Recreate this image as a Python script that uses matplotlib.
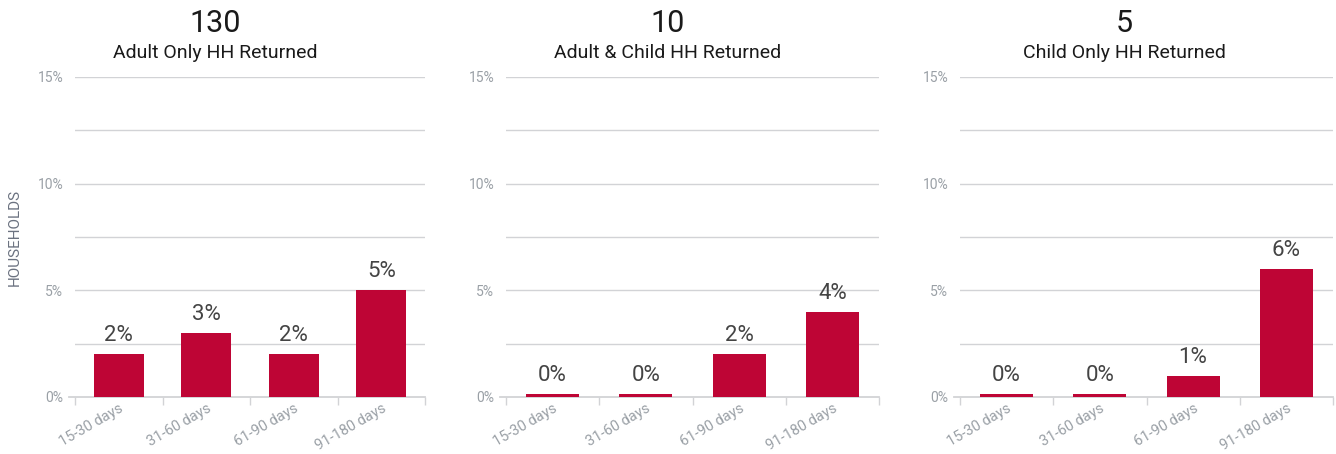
import matplotlib
matplotlib.use("Agg")
import matplotlib.pyplot as plt
import matplotlib.transforms as mtransforms
from matplotlib.ticker import FixedLocator

plt.rcParams['font.family'] = ['Roboto', 'DejaVu Sans']

categories = ["15-30 days", "31-60 days", "61-90 days", "91-180 days"]
totals = ["130", "10", "5"]
subtitles = ["Adult Only HH Returned", "Adult & Child HH Returned", "Child Only HH Returned"]
adult_only = [2, 3, 2, 5]
adult_child = [0, 0, 2, 4]
child_only = [0, 0, 1, 6]
series = [adult_only, adult_child, child_only]
y_ticks = [0, 5, 10, 15]
y_grid = [0, 2.5, 5, 7.5, 10, 12.5, 15]

W, H = 1336, 454
fig = plt.figure(figsize=(W / 100, H / 100), dpi=100)

# axes pixel boxes: left, right
boxes = [(75, 425), (506, 879), (960, 1333)]
title_centers = [215, 668, 1124]
y_top, y_bot = 77, 397

bar_color = "#BE0535"
grid_color = "#D2D3D6"
tick_color = "#9AA0A6"

for i, ((l, r), vals) in enumerate(zip(boxes, series)):
    ax = fig.add_axes([l / W, 1 - y_bot / H, (r - l) / W, (y_bot - y_top) / H])
    x = list(range(len(categories)))
    heights = [max(v, 0.13) for v in vals]
    ax.bar(x, heights, width=0.57, color=bar_color, zorder=3)
    for xi, v, hgt in zip(x, vals, heights):
        ax.text(xi, hgt + 0.38, f"{v}%", ha="center", va="bottom",
                fontsize=16, color="#444444", zorder=4)
    ax.set_xlim(-0.5, len(categories) - 0.5)
    ax.set_ylim(0, 15)
    for g in y_grid[1:]:
        ax.axhline(g, color=grid_color, lw=1, zorder=1)
    ax.axhline(0, xmin=-0.016, xmax=1.0, color=grid_color, lw=1.3, zorder=2, clip_on=False)
    ax.set_yticks(y_ticks)
    ax.set_yticklabels([f"{t}%" for t in y_ticks], color=tick_color, fontsize=10)
    ax.tick_params(axis="y", length=0, pad=8.5)
    ax.set_xticks(x)
    ax.set_xticklabels(categories, rotation=30, ha="right", rotation_mode="anchor",
                       color=tick_color, fontsize=10.5)
    offset = mtransforms.ScaledTranslation(3 / 100, 0, fig.dpi_scale_trans)
    for lab in ax.get_xticklabels():
        lab.set_transform(lab.get_transform() + offset)
    ax.tick_params(axis="x", which="major", length=0, pad=3)
    ax.xaxis.set_minor_locator(FixedLocator([k - 0.5 for k in range(len(categories) + 1)]))
    ax.tick_params(axis="x", which="minor", length=6, color=grid_color, width=1)
    for s in ax.spines.values():
        s.set_visible(False)
    fig.text(title_centers[i] / W, 1 - 23 / H, totals[i], ha="center", va="center",
             fontsize=22, color="#1a1a1a")
    fig.text(title_centers[i] / W, 1 - 53 / H, subtitles[i], ha="center", va="center",
             fontsize=14, color="#1a1a1a")

fig.text(15 / W, 1 - 237 / H, "HOUSEHOLDS", rotation=90, ha="center", va="center",
         fontsize=11, color="#6B7280")

fig.savefig("out.png", dpi=100, facecolor="white")
